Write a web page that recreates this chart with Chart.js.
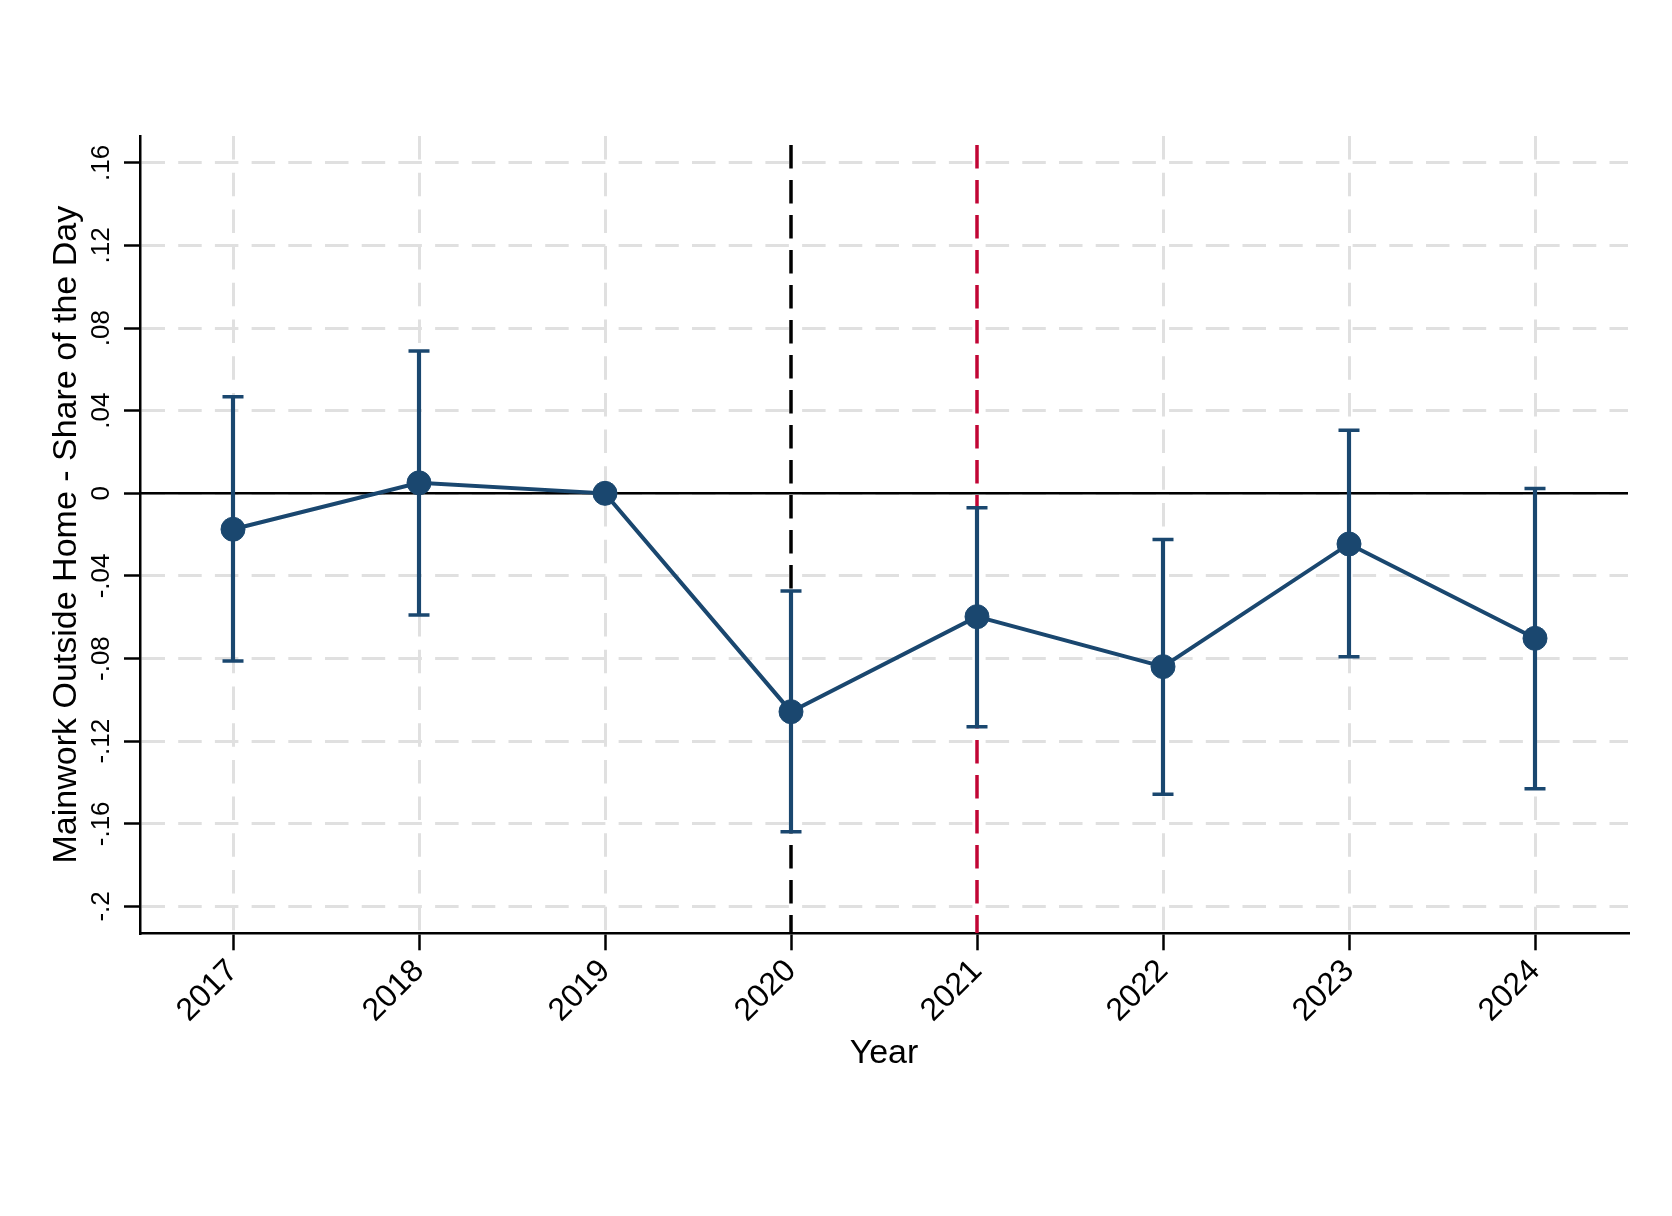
<!DOCTYPE html>
<html>
<head>
<meta charset="utf-8">
<script src="https://cdn.jsdelivr.net/npm/chart.js@4.4.1/dist/chart.umd.min.js"></script>
<style>
  html, body { margin: 0; padding: 0; background: #fff; }
</style>
</head>
<body>
<canvas id="chart" width="1672" height="1216"></canvas>
<script>
// data
const years = [2017, 2018, 2019, 2020, 2021, 2022, 2023, 2024];
const coef = [-0.0174, 0.0051, 0, -0.1057, -0.0597, -0.0839, -0.0245, -0.0702];
const ciLow = [-0.0812, -0.0589, null, -0.1638, -0.1130, -0.1457, -0.0791, -0.1430];
const ciHigh = [0.0468, 0.0689, null, -0.0473, -0.0070, -0.0223, 0.0306, 0.0024];
const refYears = [2020, 2021];
const refColors = ['#000000', '#c10534'];
const yTicks = [0.16, 0.12, 0.08, 0.04, 0, -0.04, -0.08, -0.12, -0.16, -0.2];
const yTickLabels = ['.16', '.12', '.08', '.04', '0', '-.04', '-.08', '-.12', '-.16', '-.2'];
const xRange = [2016.5, 2024.5];
const yRange = [-0.213, 0.173];

const navy = '#1a476f';
const gridGray = '#e0e0e0';
const font = '"Liberation Sans", Arial, Helvetica, sans-serif';

// points of the confidence intervals (caps and vertical bars)
const capPoints = [];
const ciBars = [];
years.forEach((yr, i) => {
    if (ciLow[i] == null) return;
    capPoints.push({ x: yr, y: ciLow[i] }, { x: yr, y: ciHigh[i] });
    ciBars.push({ x: yr, y: [ciLow[i], ciHigh[i]] });
});

const refLines = refYears.map((yr, i) => ({
    type: 'line',
    data: [{ x: yr, y: yRange[1] }, { x: yr, y: yRange[0] }],
    borderColor: refColors[i],
    borderWidth: 3.5,
    borderDash: [23.5, 11.5],
    borderDashOffset: 26,
    pointRadius: 0,
    order: 6,
}));

const ctx = document.getElementById('chart').getContext('2d');
const chart = new Chart(ctx, {
    type: 'line',
    data: {
        datasets: [
            {
                type: 'line',
                data: years.map((yr, i) => ({ x: yr, y: coef[i] })),
                borderColor: navy,
                borderWidth: 4,
                pointRadius: 12,
                pointBackgroundColor: navy,
                pointBorderColor: navy,
                pointBorderWidth: 1,
                tension: 0,
                order: 1,
            },
            {
                type: 'line',
                data: capPoints,
                showLine: false,
                pointStyle: 'line',
                pointRadius: 10.5,
                pointBorderColor: navy,
                pointBorderWidth: 3.5,
                order: 2,
            },
            {
                type: 'bar',
                data: ciBars,
                backgroundColor: navy,
                borderWidth: 0,
                barThickness: 3.5,
                order: 3,
            },
            {
                type: 'line',
                data: [{ x: xRange[0], y: 0 }, { x: xRange[1], y: 0 }],
                borderColor: '#000',
                borderWidth: 2.5,
                pointRadius: 0,
                order: 4,
            },
            ...refLines,
        ],
    },
    options: {
        responsive: false,
        animation: false,
        layout: { padding: { top: 136, right: 44, left: 0, bottom: 0 } },
        plugins: { legend: { display: false }, tooltip: { enabled: false } },
        scales: {
            x: {
                type: 'linear',
                min: xRange[0],
                max: xRange[1],
                offset: false,
                afterBuildTicks: scale => { scale.ticks = years.map(v => ({ value: v })); },
                afterFit: scale => { scale.height = 1216 - 933.3; },
                grid: {
                    offset: false,
                    color: c => (c.tick && refYears.includes(c.tick.value)) ? 'rgba(0,0,0,0)' : gridGray,
                    lineWidth: 3,
                    tickLength: 17,
                    tickColor: '#000',
                    tickWidth: 2.5,
                },
                border: { color: '#000', width: 2.5, dash: [23.5, 13.2] },
                ticks: {
                    autoSkip: false,
                    minRotation: 45,
                    maxRotation: 45,
                    padding: 2,
                    color: '#000',
                    font: { family: font, size: 32 },
                    callback: v => String(v),
                },
                title: {
                    display: true,
                    text: 'Year',
                    color: '#000',
                    font: { family: font, size: 34 },
                    padding: { top: 0, bottom: 142 },
                },
            },
            y: {
                type: 'linear',
                min: yRange[0],
                max: yRange[1],
                afterBuildTicks: scale => { scale.ticks = yTicks.map(v => ({ value: v })); },
                afterFit: scale => { scale.width = 140; },
                grid: {
                    color: gridGray,
                    lineWidth: 3,
                    tickLength: 16,
                    tickColor: '#000',
                    tickWidth: 2.5,
                },
                border: { color: '#000', width: 2.5, dash: [23.5, 13.2] },
                ticks: {
                    autoSkip: false,
                    minRotation: 90,
                    maxRotation: 90,
                    crossAlign: 'center',
                    padding: 0,
                    color: '#000',
                    font: { family: font, size: 26 },
                    callback: (v, i) => yTickLabels[yTicks.indexOf(v)] ?? '',
                },
                title: {
                    display: true,
                    text: 'Mainwork Outside Home - Share of the Day',
                    color: '#000',
                    font: { family: font, size: 34 },
                    padding: { top: 46, bottom: 0 },
                },
            },
        },
    },
});
</script>
</body>
</html>
